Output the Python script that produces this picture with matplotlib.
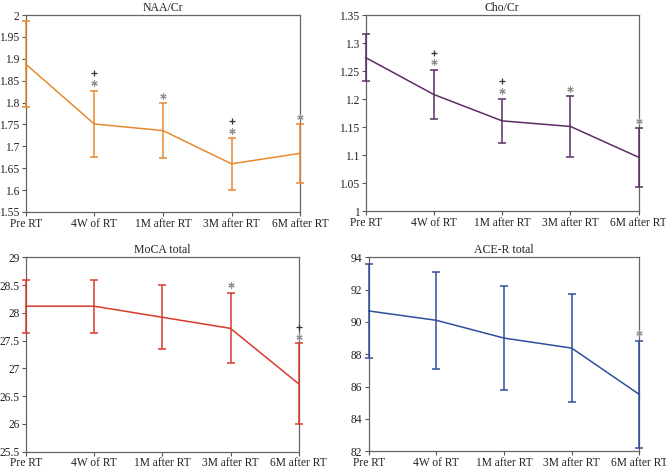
import matplotlib
matplotlib.use("Agg")
import matplotlib.pyplot as plt

plt.rcParams['font.family'] = ['Liberation Serif', 'DejaVu Serif']

categories = ["Pre RT", "4W of RT", "1M after RT", "3M after RT", "6M after RT"]

naa_mean = [1.888, 1.751, 1.736, 1.660, 1.684]
naa_err = [0.099, 0.076, 0.062, 0.059, 0.067]
naa_plus = {1: 1.867, 3: 1.757}
naa_star = {1: 1.844, 2: 1.815, 3: 1.735, 4: 1.767}

cho_mean = [1.274, 1.208, 1.161, 1.151, 1.096]
cho_err = [0.042, 0.043, 0.039, 0.054, 0.053]
cho_plus = {1: 1.283, 2: 1.232}
cho_star = {1: 1.266, 2: 1.215, 3: 1.218, 4: 1.160}

moca_mean = [28.12, 28.12, 27.92, 27.72, 26.72]
moca_err = [0.48, 0.48, 0.58, 0.63, 0.73]
moca_plus = {4: 27.75}
moca_star = {3: 28.50, 4: 27.57}

ace_mean = [90.68, 90.10, 89.00, 88.38, 85.51]
ace_err = [2.90, 3.00, 3.23, 3.36, 3.33]
ace_plus = {}
ace_star = {4: 89.32}

panels = [
    dict(title="NAA/Cr", mean=naa_mean, err=naa_err, plus=naa_plus, star=naa_star,
         color="#E8892E", ylim=(1.55, 2.0), step=0.05,
         rect=[0.0386, 0.548, 0.412, 0.420]),
    dict(title="Cho/Cr", mean=cho_mean, err=cho_err, plus=cho_plus, star=cho_star,
         color="#5B2D63", ylim=(1.0, 1.35), step=0.05,
         rect=[0.549, 0.550, 0.410, 0.418]),
    dict(title="MoCA total", mean=moca_mean, err=moca_err, plus=moca_plus, star=moca_star,
         color="#D83B2C", ylim=(25.5, 29.0), step=0.5,
         rect=[0.0386, 0.037, 0.410, 0.4144]),
    dict(title="ACE-R total", mean=ace_mean, err=ace_err, plus=ace_plus, star=ace_star,
         color="#2F4F9B", ylim=(82, 94), step=2,
         rect=[0.5536, 0.038, 0.4064, 0.4134]),
]

fig = plt.figure(figsize=(6.66, 4.69), dpi=100)
x = list(range(len(categories)))
for p in panels:
    ax = fig.add_axes(p["rect"])
    ax.errorbar(x, p["mean"], yerr=p["err"], color=p["color"], lw=1.1,
                elinewidth=1.1, capsize=3, capthick=1.1, clip_on=False, zorder=3)
    if p["plus"]:
        ax.plot(list(p["plus"].keys()), list(p["plus"].values()), linestyle="none",
                marker="+", markersize=5, markeredgewidth=0.9, color="#333333",
                clip_on=False, zorder=4)
    if p["star"]:
        ax.plot(list(p["star"].keys()), list(p["star"].values()), linestyle="none",
                marker=(6, 2, 0), markersize=4.5, markeredgewidth=0.8, color="#909090",
                clip_on=False, zorder=4)
    ax.set_xlim(0, 4)
    ax.set_ylim(*p["ylim"])
    lo, hi = p["ylim"]
    n = int(round((hi - lo) / p["step"]))
    ticks = [lo + k * p["step"] for k in range(n + 1)]
    ax.set_yticks(ticks)
    ax.set_yticklabels(["{:g}".format(round(t, 2)) for t in ticks])
    ax.set_xticks(x)
    ax.set_xticklabels(categories)
    ax.tick_params(axis="both", labelsize=8.3, length=3, width=0.8, color="#555555",
                   labelcolor="#222222")
    ax.tick_params(axis="x", pad=1.0)
    ax.tick_params(axis="y", pad=1.5)
    for s in ax.spines.values():
        s.set_color("#666666")
        s.set_linewidth(0.9)
    ax.set_title(p["title"], fontsize=8.5, pad=3, color="#222222")

fig.savefig("out.png", dpi=100)
